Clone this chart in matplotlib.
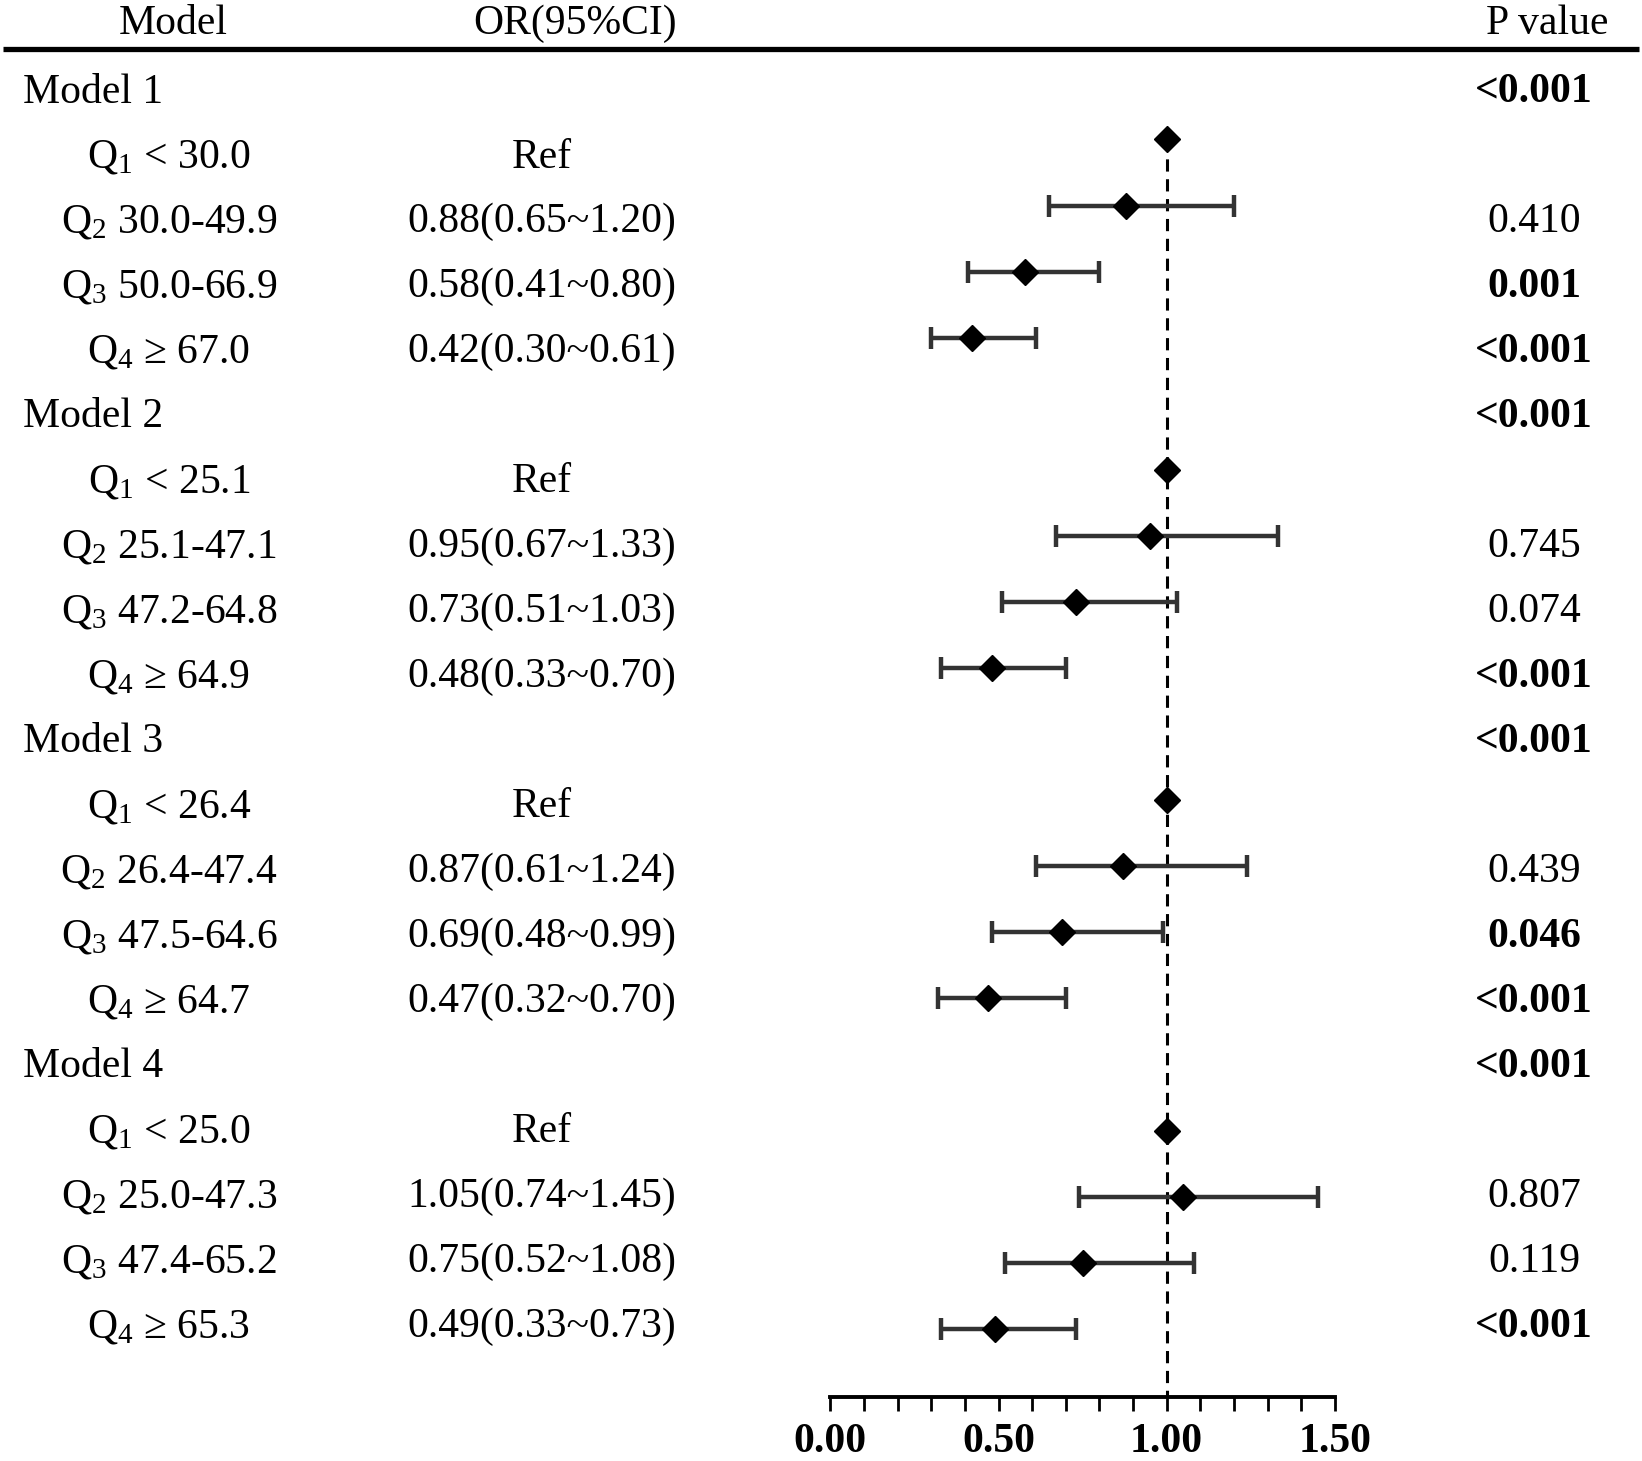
import matplotlib.pyplot as plt
import numpy as np

plt.rcParams['font.family'] = ['Liberation Serif', 'DejaVu Serif']
plt.rcParams['mathtext.fontset'] = 'custom'
plt.rcParams['mathtext.rm'] = 'Liberation Serif'
plt.rcParams['mathtext.default'] = 'regular'

# data
models = ['Model 1', 'Model 2', 'Model 3', 'Model 4']
model_p = ['<0.001', '<0.001', '<0.001', '<0.001']
quartile_labels = [
    ['Q$_1$ < 30.0', 'Q$_2$ 30.0-49.9', 'Q$_3$ 50.0-66.9', 'Q$_4$ ≥ 67.0'],
    ['Q$_1$ < 25.1', 'Q$_2$ 25.1-47.1', 'Q$_3$ 47.2-64.8', 'Q$_4$ ≥ 64.9'],
    ['Q$_1$ < 26.4', 'Q$_2$ 26.4-47.4', 'Q$_3$ 47.5-64.6', 'Q$_4$ ≥ 64.7'],
    ['Q$_1$ < 25.0', 'Q$_2$ 25.0-47.3', 'Q$_3$ 47.4-65.2', 'Q$_4$ ≥ 65.3'],
]
odds = [
    [1.00, 0.88, 0.58, 0.42],
    [1.00, 0.95, 0.73, 0.48],
    [1.00, 0.87, 0.69, 0.47],
    [1.00, 1.05, 0.75, 0.49],
]
ci_low = [
    [None, 0.65, 0.41, 0.30],
    [None, 0.67, 0.51, 0.33],
    [None, 0.61, 0.48, 0.32],
    [None, 0.74, 0.52, 0.33],
]
ci_high = [
    [None, 1.20, 0.80, 0.61],
    [None, 1.33, 1.03, 0.70],
    [None, 1.24, 0.99, 0.70],
    [None, 1.45, 1.08, 0.73],
]
p_values = [
    ['', '0.410', '0.001', '<0.001'],
    ['', '0.745', '0.074', '<0.001'],
    ['', '0.439', '0.046', '<0.001'],
    ['', '0.807', '0.119', '<0.001'],
]
p_bold = [
    [False, False, True, True],
    [False, False, False, True],
    [False, False, True, True],
    [False, False, False, True],
]

W, H = 1566.0, 1393.0  # layout measured in reference pixels
fs = 30

fig = plt.figure(figsize=(16.42, 14.61), dpi=100)

# text layer over the whole figure, rows as y units
tx = fig.add_axes([0, 0, 1, 1])
tx.set_xlim(0, W)
tx.set_ylim((H - 88) / 61.95, -88 / 61.95)
tx.axis('off')

tx.text(165, -1.06, 'Model', ha='center', va='center', fontsize=fs)
tx.text(548, -1.06, 'OR(95%CI)', ha='center', va='center', fontsize=fs)
tx.text(1476, -1.06, 'P value', ha='center', va='center', fontsize=fs)
tx.plot([3, 1563], [-0.66, -0.66], color='black', lw=3.8, solid_capstyle='butt')

# forest panel
ax = fig.add_axes([792 / W, 1 - 1332 / H, (1273 - 792) / W, (1332 - 70) / H])
ax.set_xlim(0, 1.5)
ax.set_ylim((1332 - 70) / 63.0, 0)

row = 0
first_marker = None
for m in range(len(models)):
    tx.text(22, row, models[m], ha='left', va='center', fontsize=fs)
    tx.text(1463, row, model_p[m], ha='center', va='center', fontsize=fs, fontweight='bold')
    row += 1
    for q in range(4):
        tx.text(161, row, quartile_labels[m][q], ha='center', va='center', fontsize=fs)
        if ci_low[m][q] is None:
            tx.text(517, row, 'Ref', ha='center', va='center', fontsize=fs)
        else:
            tx.text(517, row, '%.2f(%.2f~%.2f)' % (odds[m][q], ci_low[m][q], ci_high[m][q]),
                    ha='center', va='center', fontsize=fs)
            ax.errorbar(odds[m][q], row, xerr=[[odds[m][q] - ci_low[m][q]], [ci_high[m][q] - odds[m][q]]],
                        fmt='none', ecolor='#333333', elinewidth=3.2, capsize=8, capthick=3.2, zorder=2)
        if first_marker is None:
            first_marker = row
        ax.plot(odds[m][q], row, marker='D', color='black', markersize=13, zorder=3)
        tx.text(1463, row, p_values[m][q], ha='center', va='center', fontsize=fs,
                fontweight='bold' if p_bold[m][q] else 'normal')
        row += 1

ax.plot([1, 1], [first_marker, ax.get_ylim()[0]], color='black', lw=2.2, ls=(0, (4, 2.5)), zorder=1)

for s in ['top', 'right', 'left']:
    ax.spines[s].set_visible(False)
ax.spines['bottom'].set_linewidth(2.8)
ax.set_yticks([])
ax.set_xticks([0, 0.5, 1.0, 1.5])
ax.set_xticks(np.arange(0, 1.51, 0.1), minor=True)
ax.set_xticklabels(['0.00', '0.50', '1.00', '1.50'], fontsize=fs, fontweight='bold')
ax.tick_params(axis='x', which='both', length=10, width=2, direction='out', pad=9)
ax.patch.set_alpha(0)

fig.savefig('out.png', dpi=100)
